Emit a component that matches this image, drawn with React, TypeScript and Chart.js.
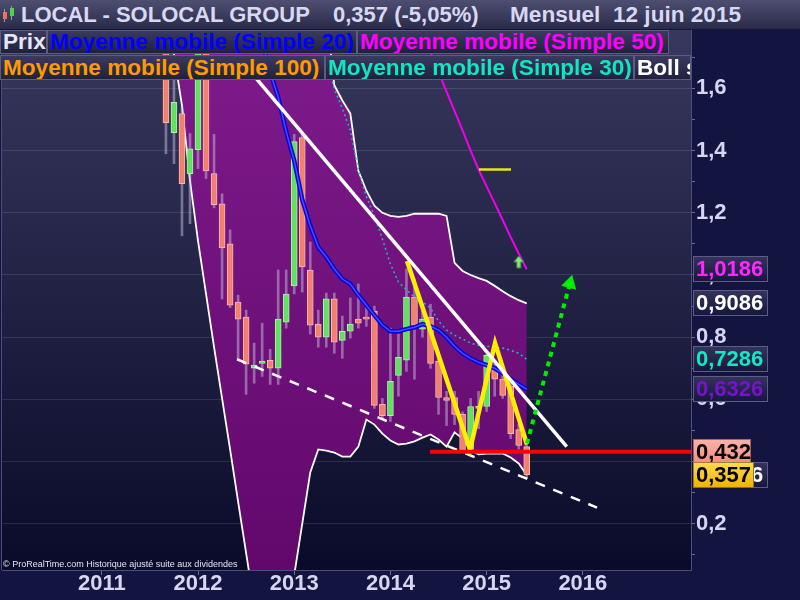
import React, { useEffect, useRef } from 'react';
import { Chart, registerables } from 'chart.js';

Chart.register(...registerables);

// ---------------- data ----------------
// x axis: month index, 0 = January 2011
const yearLabels = ['2011', '2012', '2013', '2014', '2015', '2016'];
const yearTickMonths = [0, 12, 24, 36, 48, 60];
const priceTicks = [0.1, 0.2, 0.3, 0.4, 0.5, 0.6, 0.7, 0.8, 0.9, 1.0, 1.1, 1.2, 1.3, 1.4, 1.5, 1.6, 1.7];
const priceTickLabels = [0.2, 0.4, 0.6, 0.8, 1.0, 1.2, 1.4, 1.6];

const candleMonths = [8, 9, 10, 11, 12, 13, 14, 15, 16, 17, 18, 19, 20, 21, 22, 23, 24, 25, 26, 27, 28, 29, 30, 31, 32, 33, 34, 35, 36, 37, 38, 39, 40, 41, 42, 43, 44, 45, 46, 47, 48, 49, 50, 51, 52, 53];
const opens = [1.86, 1.458, 1.519, 1.326, 1.403, 1.84, 1.326, 1.229, 1.1, 0.913, 0.865, 0.7, 0.716, 0.726, 0.7, 0.848, 0.965, 1.442, 1.016, 0.842, 0.8, 0.923, 0.79, 0.819, 0.858, 0.861, 0.884, 0.584, 0.548, 0.677, 0.726, 0.929, 0.826, 0.865, 0.723, 0.606, 0.606, 0.552, 0.439, 0.571, 0.577, 0.697, 0.665, 0.642, 0.503, 0.448];
const highs = [1.9, 1.68, 1.54, 1.455, 1.88, 1.86, 1.452, 1.261, 1.145, 0.935, 0.887, 0.781, 0.845, 0.761, 1.016, 1.016, 1.452, 1.458, 1.106, 0.887, 0.942, 0.942, 0.868, 0.926, 0.971, 0.9, 0.9, 0.603, 0.829, 0.81, 1.019, 0.987, 0.9, 0.906, 0.73, 0.626, 0.626, 0.56, 0.603, 0.626, 0.745, 0.723, 0.69, 0.658, 0.52, 0.455];
const lows = [1.39, 1.358, 1.126, 1.165, 1.342, 1.31, 1.216, 0.923, 0.895, 0.729, 0.616, 0.652, 0.674, 0.648, 0.648, 0.829, 0.939, 0.945, 0.81, 0.768, 0.768, 0.748, 0.732, 0.797, 0.829, 0.835, 0.571, 0.539, 0.529, 0.61, 0.69, 0.665, 0.8, 0.7, 0.552, 0.516, 0.519, 0.432, 0.432, 0.506, 0.561, 0.61, 0.603, 0.474, 0.44, 0.348];
const closes = [1.49, 1.555, 1.294, 1.406, 1.84, 1.335, 1.226, 1.087, 0.903, 0.858, 0.713, 0.71, 0.723, 0.7, 0.858, 0.939, 1.429, 1.026, 0.839, 0.8, 0.923, 0.784, 0.819, 0.842, 0.845, 0.858, 0.581, 0.548, 0.658, 0.735, 0.929, 0.839, 0.858, 0.716, 0.606, 0.597, 0.552, 0.432, 0.577, 0.577, 0.742, 0.665, 0.613, 0.49, 0.452, 0.357];

const ma20Months = [20, 21, 22, 23, 24, 25, 26, 27, 28, 29, 30, 31, 32, 33, 34, 35, 36, 37, 38, 39, 40, 41, 42, 43, 44, 45, 46, 47, 48, 49, 50, 51, 52, 53];
const ma20Values = [1.75, 1.652, 1.571, 1.461, 1.368, 1.242, 1.158, 1.09, 1.058, 1.019, 0.987, 0.971, 0.935, 0.903, 0.871, 0.839, 0.819, 0.819, 0.826, 0.832, 0.842, 0.835, 0.823, 0.8, 0.771, 0.748, 0.732, 0.719, 0.71, 0.7, 0.684, 0.665, 0.648, 0.6326];

const ma30Months = [28, 29, 30, 31, 32, 33, 34, 35, 36, 37, 38, 39, 40, 41, 42, 43, 44, 45, 46, 47, 48, 49, 50, 51, 52, 53];
const ma30Values = [1.7, 1.597, 1.535, 1.465, 1.335, 1.252, 1.19, 1.116, 1.035, 0.977, 0.952, 0.929, 0.913, 0.894, 0.852, 0.823, 0.806, 0.794, 0.781, 0.774, 0.771, 0.768, 0.765, 0.758, 0.748, 0.7286];

const ma50Months = [41, 42, 43, 44, 45, 46, 47, 48, 49, 50, 51, 52, 53];
const ma50Values = [1.715, 1.653, 1.59, 1.527, 1.465, 1.4, 1.339, 1.285, 1.231, 1.177, 1.122, 1.069, 1.0186];

const bollMonths = candleMonths;
const bollUpper = [2.9, 2.9, 2.8, 2.8, 2.8, 2.8, 2.7, 2.7, 2.7, 2.6, 2.6, 2.6, 2.5, 2.5, 2.4, 2.3, 2.2, 2.1, 2.0, 1.95, 1.85, 1.61, 1.561, 1.519, 1.335, 1.271, 1.223, 1.2, 1.19, 1.187, 1.19, 1.197, 1.197, 1.197, 1.197, 1.19, 1.039, 1.013, 1.0, 0.99, 0.981, 0.965, 0.948, 0.932, 0.919, 0.9086];
const bollLower = [1.95, 1.71, 1.545, 1.303, 1.11, 0.939, 0.768, 0.603, 0.439, 0.271, 0.106, -0.06, -0.23, -0.35, -0.4, -0.3, 0.035, 0.2, 0.365, 0.439, 0.435, 0.429, 0.416, 0.416, 0.448, 0.535, 0.519, 0.49, 0.468, 0.455, 0.458, 0.465, 0.477, 0.487, 0.471, 0.448, 0.494, 0.474, 0.436, 0.423, 0.426, 0.426, 0.426, 0.413, 0.394, 0.3566];

// drawn objects (month index, price)
const resistanceMonths = [17.57, 57.99];
const resistanceValues = [1.684, 0.448];
const supportMonths = [16.86, 61.77];
const supportValues = [0.729, 0.252];
const patternMonths = [38.07, 45.93, 49.05, 53.03];
const patternValues = [1.045, 0.439, 0.781, 0.455];
const targetMonths = [53.03, 58.38];
const targetValues = [0.458, 0.973];
const levelMonths = [40.94, 76];
const levelValues = [0.432, 0.432];
const markMonths = [47.05, 51.04];
const markValues = [1.339, 1.339];
const signalMonths = [52];
const signalValues = [1.042];

// right-axis value tags
const tagValues = [1.0186, 0.9086, 0.7286, 0.6326, 0.3566, 0.432, 0.357];

// ---------------- chart ----------------
const FONT = "'Liberation Sans', Arial, Helvetica, sans-serif";
const AXIS_TEXT = '#d6d6f2';

const tagStyles = [
  { fg: '#ff26ff', bg: null, w: 75 },
  { fg: '#ffffff', bg: null, w: 75 },
  { fg: '#16e6c2', bg: null, w: 75 },
  { fg: '#7812cc', bg: null, w: 75 },
  { fg: '#ffffff', bg: null, w: 75 },
  { fg: '#000000', bg: ['#ffb2a8', '#f48a80'], w: 58 },
  { fg: '#000000', bg: ['#ffdc50', '#f0b200'], w: 61 },
];

const pts = (xs: number[], ys: number[]) => xs.map((x, i) => ({ x, y: ys[i] }));

const lineDs = (data: any, color: string, width: number, order: number, extra: any = {}) => ({
  type: 'line',
  data,
  borderColor: color,
  backgroundColor: color,
  borderWidth: width,
  pointRadius: 0,
  fill: false,
  tension: 0,
  order,
  ...extra,
});

const bgPlugin = {
  id: 'prtBackground',
  beforeDraw(chart: any) {
    const { ctx, chartArea: a, width, height } = chart;
    ctx.save();
    ctx.fillStyle = '#141440';
    ctx.fillRect(0, 0, width, height);
    const g = ctx.createLinearGradient(0, a.top, 0, a.bottom);
    g.addColorStop(0, '#38385e');
    g.addColorStop(1, '#0a0a2a');
    ctx.fillStyle = g;
    ctx.fillRect(a.left, a.top, a.right - a.left, a.bottom - a.top);
    ctx.restore();
  },
  afterDraw(chart: any) {
    const { ctx, chartArea: a } = chart;
    const ys = chart.scales.y;
    ctx.save();
    ctx.strokeStyle = '#4c4c76';
    ctx.lineWidth = 1;
    ctx.beginPath();
    ctx.moveTo(a.left - 0.5, a.top);
    ctx.lineTo(a.left - 0.5, a.bottom);
    ctx.stroke();

    ctx.font = `bold 22px ${FONT}`;
    ctx.textBaseline = 'middle';
    ctx.textAlign = 'left';
    tagValues.forEach((v, i) => {
      const st = tagStyles[i];
      const y = ys.getPixelForValue(v);
      const top = Math.round(y - 13);
      const h = 26;
      const x0 = a.right + 2;
      let g = ctx.createLinearGradient(0, top, 0, top + h);
      if (st.bg) {
        g.addColorStop(0, st.bg[0]);
        g.addColorStop(1, st.bg[1]);
      } else {
        g.addColorStop(0, '#34345c');
        g.addColorStop(1, '#15153d');
      }
      ctx.fillStyle = g;
      ctx.fillRect(x0, top, st.w, h);
      ctx.strokeStyle = st.bg ? 'rgba(60,40,30,0.5)' : '#5c5c86';
      ctx.strokeRect(x0 + 0.5, top + 0.5, st.w - 1, h - 1);
      ctx.fillStyle = st.fg;
      ctx.fillText(String(v).replace('.', ','), x0 + 3, y + 1);
    });
    ctx.restore();
  },
};

export default function App() {
  const canvasRef = useRef<HTMLCanvasElement>(null);

  useEffect(() => {
    const canvas = canvasRef.current as HTMLCanvasElement;
    const c2 = canvas.getContext('2d') as CanvasRenderingContext2D;
    const purple = c2.createLinearGradient(0, 30, 0, 570);
    purple.addColorStop(0, '#7e1b8c');
    purple.addColorStop(1, '#62086c');

    const arrow = document.createElement('canvas');
    arrow.width = 12;
    arrow.height = 14;
    const ac = arrow.getContext('2d') as CanvasRenderingContext2D;
    ac.fillStyle = '#86e686';
    ac.strokeStyle = '#3c8a3c';
    ac.lineWidth = 1;
    ac.beginPath();
    ac.moveTo(6, 1);
    ac.lineTo(11, 7);
    ac.lineTo(8, 7);
    ac.lineTo(8, 13);
    ac.lineTo(4, 13);
    ac.lineTo(4, 7);
    ac.lineTo(1, 7);
    ac.closePath();
    ac.fill();
    ac.stroke();

    const up = candleMonths.map((_, i) => closes[i] >= opens[i]);
    const bodyFill = up.map((u) => (u ? '#62e062' : '#f0806f'));
    const bodyEdge = up.map((u) => (u ? '#b0f2a8' : '#f9b8ac'));

    const datasets: any[] = [
      lineDs(pts(bollMonths, bollLower), '#ffffff', 1.8, 100, {
        fill: { target: '+1', above: purple, below: purple },
      }),
      lineDs(pts(bollMonths, bollUpper), '#ffffff', 1.8, 99),
      {
        type: 'bar',
        data: candleMonths.map((m, i) => ({ x: m, y: [lows[i], highs[i]] })),
        backgroundColor: 'rgba(200,190,215,0.5)',
        borderWidth: 0,
        barThickness: 2,
        grouped: false,
        order: 90,
      },
      {
        type: 'bar',
        data: candleMonths.map((m, i) => ({ x: m, y: [Math.min(opens[i], closes[i]), Math.max(opens[i], closes[i])] })),
        backgroundColor: bodyFill,
        borderColor: bodyEdge,
        borderWidth: 1,
        borderSkipped: false,
        barThickness: 6,
        minBarLength: 2,
        grouped: false,
        order: 89,
      },
      lineDs(pts(ma30Months, ma30Values), '#1cbcbc', 1.5, 80, { borderDash: [2, 3] }),
      lineDs(pts(ma20Months, ma20Values), '#0606d8', 4.5, 79),
      lineDs(pts(ma20Months, ma20Values), '#4a4aff', 1.5, 78),
      lineDs(pts(ma50Months, ma50Values), '#f000f0', 2, 77),
      lineDs(pts(supportMonths, supportValues), '#ffffff', 2.5, 70, { borderDash: [10, 9] }),
      lineDs(pts(patternMonths, patternValues), '#ffee00', 4.5, 69, { borderJoinStyle: 'miter' }),
      lineDs(pts(resistanceMonths, resistanceValues), '#ffffff', 3.5, 68),
      lineDs(pts(markMonths, markValues), '#e6e61e', 2.5, 67),
      lineDs(pts(signalMonths, signalValues), '#86e686', 0, 66, {
        showLine: false,
        pointRadius: 6,
        pointStyle: arrow,
      }),
      lineDs(pts(levelMonths, levelValues), '#ff0000', 4, 65),
      lineDs(pts(targetMonths, targetValues), '#00ee00', 4, 64, { borderDash: [5, 5] }),
      lineDs(pts(targetMonths.slice(1), targetValues.slice(1)), '#00ee00', 0, 63, {
        showLine: false,
        pointRadius: 9,
        pointStyle: 'triangle',
        pointRotation: 15,
        pointBackgroundColor: '#00ee00',
        pointBorderWidth: 0,
      }),
    ];

    const chart = new Chart(canvas, {
      type: 'bar',
      data: { datasets },
      plugins: [bgPlugin],
      options: {
        animation: false,
        responsive: false,
        devicePixelRatio: 1,
        events: [],
        layout: { padding: { top: 30, left: 2, right: 0, bottom: 0 }, autoPadding: false },
        plugins: { legend: { display: false }, tooltip: { enabled: false }, title: { display: false } },
        scales: {
          x: {
            type: 'linear',
            position: 'bottom',
            min: -12.449,
            max: 73.49,
            offset: false,
            afterBuildTicks: (s: any) => {
              s.ticks = yearTickMonths.map((v) => ({ value: v }));
            },
            afterFit: (s: any) => {
              s.height = 30;
            },
            ticks: {
              autoSkip: false,
              maxRotation: 0,
              padding: -4,
              color: AXIS_TEXT,
              font: { family: FONT, size: 22, weight: 'bold' },
              callback: (v: any) => {
                const i = yearTickMonths.indexOf(v);
                return i >= 0 ? yearLabels[i] : '';
              },
            },
            grid: { drawOnChartArea: false, drawTicks: true, tickLength: 5, color: '#6a6a96', offset: false },
            border: { display: true, color: '#4e4e7a', width: 1 },
          },
          y: {
            type: 'linear',
            position: 'right',
            min: 0.0514,
            max: 1.7878,
            afterBuildTicks: (s: any) => {
              s.ticks = priceTicks.map((v) => ({ value: v }));
            },
            afterFit: (s: any) => {
              s.width = 109;
            },
            ticks: {
              padding: 1,
              color: AXIS_TEXT,
              font: { family: FONT, size: 22, weight: 'bold' },
              callback: (v: any) =>
                priceTickLabels.some((p) => Math.abs(p - v) < 1e-6) ? Number(v).toFixed(1).replace('.', ',') : '',
            },
            grid: {
              drawOnChartArea: true,
              drawTicks: true,
              tickLength: 4,
              tickColor: '#6a6a96',
              color: (ctx: any) =>
                ctx.tick && priceTickLabels.some((p) => Math.abs(p - ctx.tick.value) < 1e-6)
                  ? 'rgba(255,255,255,0.11)'
                  : 'rgba(0,0,0,0)',
            },
            border: { display: true, color: '#4e4e7a', width: 1 },
          },
        },
      } as any,
    } as any);

    return () => chart.destroy();
  }, []);

  const headText: React.CSSProperties = {
    position: 'absolute',
    top: 0,
    height: 29,
    lineHeight: '29px',
    fontFamily: FONT,
    fontWeight: 'bold',
    fontSize: 22,
    color: '#d8d8f2',
    whiteSpace: 'pre',
  };
  const box = (left: number, top: number, width: number, height: number): React.CSSProperties => ({
    position: 'absolute',
    left,
    top,
    width,
    height,
    boxSizing: 'border-box',
    background: 'linear-gradient(#3a3a60, #20203e)',
    border: '1px solid #5c5c80',
    overflow: 'hidden',
    whiteSpace: 'nowrap',
    fontFamily: FONT,
    fontWeight: 'bold',
    fontSize: 22.6,
    lineHeight: `${height - 2}px`,
    paddingLeft: 2,
  });

  return (
    <div style={{ position: 'fixed', left: 0, top: 0, width: 800, height: 600, overflow: 'hidden', background: '#141440' }}>
      <canvas ref={canvasRef} width={800} height={600} style={{ position: 'absolute', left: 0, top: 0, width: 800, height: 600 }} />
      <div style={{ position: 'absolute', left: 0, top: 0, width: 800, height: 29, background: 'linear-gradient(#4e4e72, #2a2a4a)' }} />
      <div style={{ position: 'absolute', left: 4, top: 9, width: 1, height: 13, background: '#9a9aa8' }} />
      <div style={{ position: 'absolute', left: 3, top: 12, width: 4, height: 7, background: '#f07060' }} />
      <div style={{ position: 'absolute', left: 11, top: 6, width: 1, height: 14, background: '#9a9aa8' }} />
      <div style={{ position: 'absolute', left: 10, top: 8, width: 4, height: 8, background: '#50d050' }} />
      <div style={{ ...headText, left: 21 }}>LOCAL - SOLOCAL GROUP</div>
      <div style={{ ...headText, left: 333 }}>0,357 (-5,05%)</div>
      <div style={{ ...headText, left: 510, fontSize: 22.6 }}>Mensuel  12 juin 2015</div>

      <div style={{ ...box(0, 30, 47, 24), color: '#e6e6f6' }}>Prix</div>
      <div style={{ ...box(47, 30, 310, 24), color: '#0000ff' }}>Moyenne mobile (Simple 20)</div>
      <div style={{ ...box(357, 30, 312, 24), color: '#ff00ff' }}>Moyenne mobile (Simple 50)</div>

      <div style={{ ...box(0, 55, 325, 25), color: '#ff9900' }}>Moyenne mobile (Simple 100)</div>
      <div style={{ ...box(325, 55, 309, 25), color: '#10e6c0' }}>Moyenne mobile (Simple 30)</div>
      <div style={{ ...box(634, 55, 57, 25), color: '#ffffff' }}>Boll sup</div>

      <div
        style={{
          position: 'absolute',
          left: 3,
          top: 558,
          fontFamily: FONT,
          fontSize: 9,
          lineHeight: '12px',
          color: '#e4e4ee',
          whiteSpace: 'nowrap',
        }}
      >
        © ProRealTime.com Historique ajusté suite aux dividendes
      </div>
    </div>
  );
}
